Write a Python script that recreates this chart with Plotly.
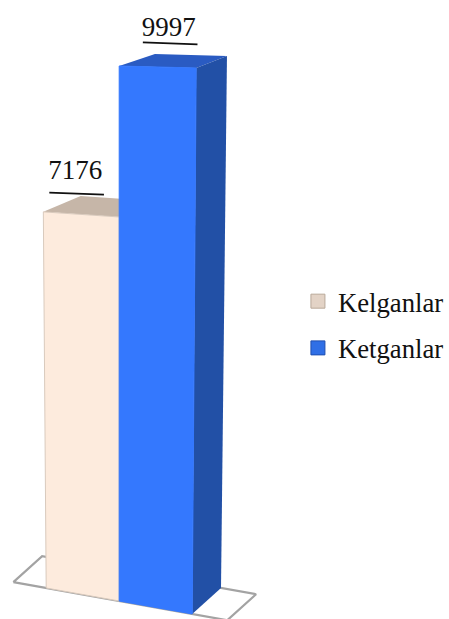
import plotly.graph_objects as go

categories = ["Kelganlar", "Ketganlar"]
values = [7176, 9997]
front_colors = ["#FDEBDD", "#3478FE"]
top_colors = ["#C6B6A8", "#2A5BC2"]
side_colors = ["#B5A595", "#2250A6"]
legend_colors = ["#E3D3C6", "#2F6FE6"]

SERIF = "Liberation Serif, Times New Roman, serif"
vmax = max(values)


def project(u, v, d):
    """Oblique view with slight perspective: category position u, value v, depth d."""
    t = v / vmax
    x = 120 + (u - 1) * (73.5 + 4 * t) + d * (29 + t * (12 - 5 * u))
    y = 588 + 13 * u - t * (524 + 11 * u) - d * (26 - 14 * t)
    return x, y


def face(corners, color, line=None, width=0):
    pts = [project(*c) for c in corners]
    pts.append(pts[0])
    return go.Scatter(
        x=[p[0] for p in pts], y=[p[1] for p in pts],
        mode="lines", fill="toself" if color else None, fillcolor=color,
        line=dict(color=line or color or "rgba(0,0,0,0)", width=width),
        hoverinfo="skip", showlegend=False,
    )


fig = go.Figure()

# floor
fig.add_trace(face([(-0.45, 0, 0), (2.48, 0, 0), (2.48, 0, 1), (-0.45, 0, 1)],
                   None, "#A3A3A3", 2.2))

# bars
for i, (name, v) in enumerate(zip(categories, values)):
    fig.add_trace(face([(i, v, 0), (i + 1, v, 0), (i + 1, v, 1), (i, v, 1)], top_colors[i]))
    fig.add_trace(face([(i + 1, 0, 0), (i + 1, v, 0), (i + 1, v, 1), (i + 1, 0, 1)], side_colors[i]))
    fig.add_trace(face([(i, 0, 0), (i + 1, 0, 0), (i + 1, v, 0), (i, v, 0)], front_colors[i],
                       "#D9CABD" if i == 0 else "#3478FE", 1))
    # value label with underline
    lx, ly = project(i + 0.5, v, 0.5 * i - 0.2)
    fig.add_trace(go.Scatter(
        x=[lx + 1], y=[ly - 45 + 11 * i], mode="text", text=[str(v)],
        textfont=dict(family=SERIF, size=27, color="#111111"),
        hoverinfo="skip", showlegend=False,
    ))
    uy = ly - 24 + 4 * i
    fig.add_trace(go.Scatter(
        x=[lx - 25, lx + 30], y=[uy - 1, uy + 1],
        mode="lines", line=dict(color="#111111", width=1.6),
        hoverinfo="skip", showlegend=False,
    ))
    # legend entry
    fig.add_trace(go.Scatter(
        x=[None], y=[None], mode="markers", name=name, legendgroup=name,
        marker=dict(symbol="square", size=14, color=legend_colors[i],
                    line=dict(color="#B9A999" if i == 0 else "#1F4FB0", width=1)),
    ))

fig.update_layout(
    width=449, height=619, autosize=False,
    margin=dict(l=0, r=0, t=0, b=0),
    paper_bgcolor="white", plot_bgcolor="white",
    xaxis=dict(range=[0, 449], visible=False, fixedrange=True),
    yaxis=dict(range=[619, 0], visible=False, fixedrange=True),
    font=dict(family=SERIF, color="#111111"),
    legend=dict(
        x=0.668, y=0.552, xanchor="left", yanchor="top",
        font=dict(family=SERIF, size=26.7, color="#111111"),
        entrywidth=90, entrywidthmode="pixels",
        bgcolor="rgba(0,0,0,0)", tracegroupgap=9, itemclick=False, itemdoubleclick=False,
    ),
)
fig.write_html("out.html", config={"displayModeBar": False},
               post_script="document.body.style.margin='0';"
                           "document.documentElement.style.overflow='hidden';"
                           "document.body.style.overflow='hidden';")
